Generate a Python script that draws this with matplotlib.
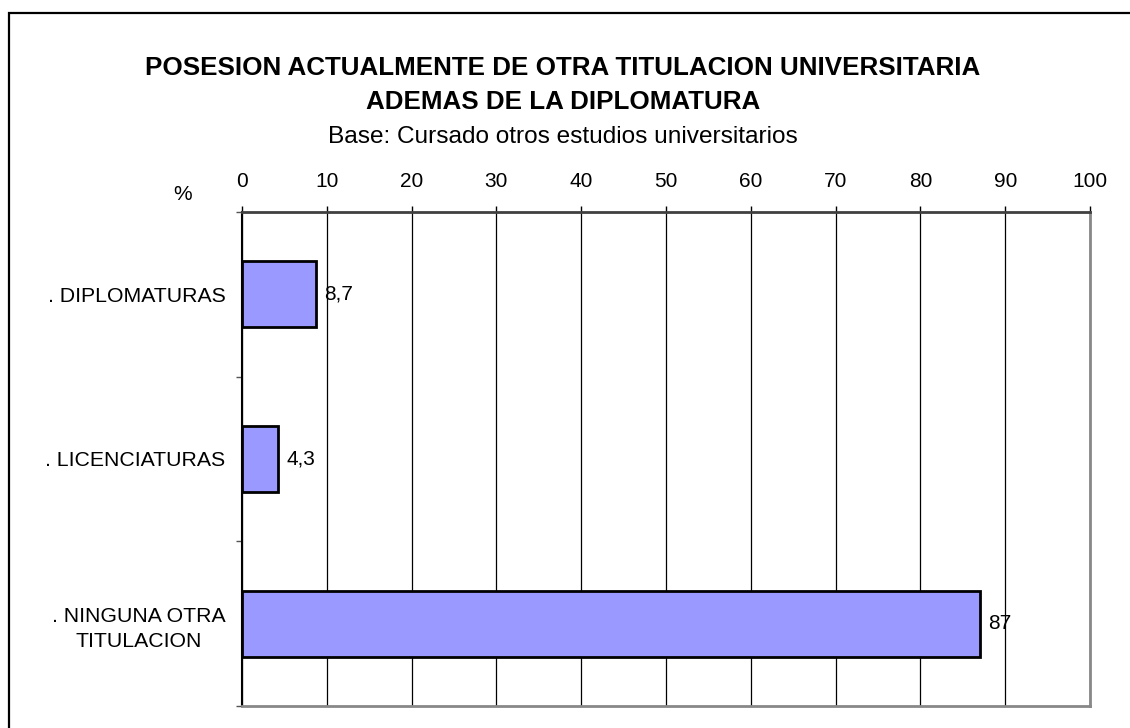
import matplotlib.pyplot as plt
from matplotlib.patches import Rectangle

plt.rcParams['font.family'] = ['Liberation Sans', 'DejaVu Sans']

# data
categories = [". DIPLOMATURAS", ". LICENCIATURAS", ". NINGUNA OTRA\nTITULACION"]
values = [8.7, 4.3, 87]
value_labels = ["8,7", "4,3", "87"]
xticks = [0, 10, 20, 30, 40, 50, 60, 70, 80, 90, 100]

fig = plt.figure(figsize=(11.3, 7.28), dpi=100)
ax = fig.add_axes([242/1130, 1 - 706/728, (1090 - 242)/1130, (706 - 212)/728])

# outer frame (cut off on the right and bottom like the original)
fig.patches.append(Rectangle((9/1130, -0.1), 1.2, 1 - 13/728 + 0.1, transform=fig.transFigure,
                             fill=False, edgecolor='black', linewidth=1.6))

ypos = list(range(len(categories)))
ax.barh(ypos, values, height=0.4, color='#9999FF', edgecolor='black', linewidth=2, zorder=3)

for y, v, lab in zip(ypos, values, value_labels):
    ax.annotate(lab, (v, y), xytext=(6, 0), textcoords='offset points',
                ha='left', va='center', fontsize=15, zorder=4)

ax.set_xlim(0, 100)
ax.set_ylim(len(categories) - 0.5, -0.5)
ax.set_xticks(xticks)
ax.xaxis.tick_top()
ax.tick_params(axis='x', which='major', direction='out', length=4, width=1, pad=11, labelsize=15)
ax.grid(axis='x', color='black', linewidth=0.9, zorder=1)

ax.set_yticks(ypos)
ax.set_yticklabels(categories, multialignment='center', linespacing=1.4)
ax.tick_params(axis='y', which='major', length=0, pad=12, labelsize=15.3)
ax.set_yticks([-0.5, 0.5, 1.5, 2.5], minor=True)
ax.tick_params(axis='y', which='minor', direction='out', length=4, width=1, color='#555555')

ax.spines['top'].set_color('#404040')
ax.spines['top'].set_linewidth(2)
ax.spines['left'].set_color('black')
ax.spines['left'].set_linewidth(1.5)
for s in ['right', 'bottom']:
    ax.spines[s].set_color('#888888')
    ax.spines[s].set_linewidth(2)

fig.text(563/1130, 1 - 68/728, "POSESION ACTUALMENTE DE OTRA TITULACION UNIVERSITARIA",
         ha='center', va='center', fontsize=18.7, fontweight='bold')
fig.text(563/1130, 1 - 102/728, "ADEMAS DE LA DIPLOMATURA",
         ha='center', va='center', fontsize=18.7, fontweight='bold')
fig.text(563/1130, 1 - 137/728, "Base: Cursado otros estudios universitarios",
         ha='center', va='center', fontsize=17.6)
fig.text(183/1130, 1 - 194/728, "%", ha='center', va='center', fontsize=15)

fig.savefig("out.png", dpi=100)
